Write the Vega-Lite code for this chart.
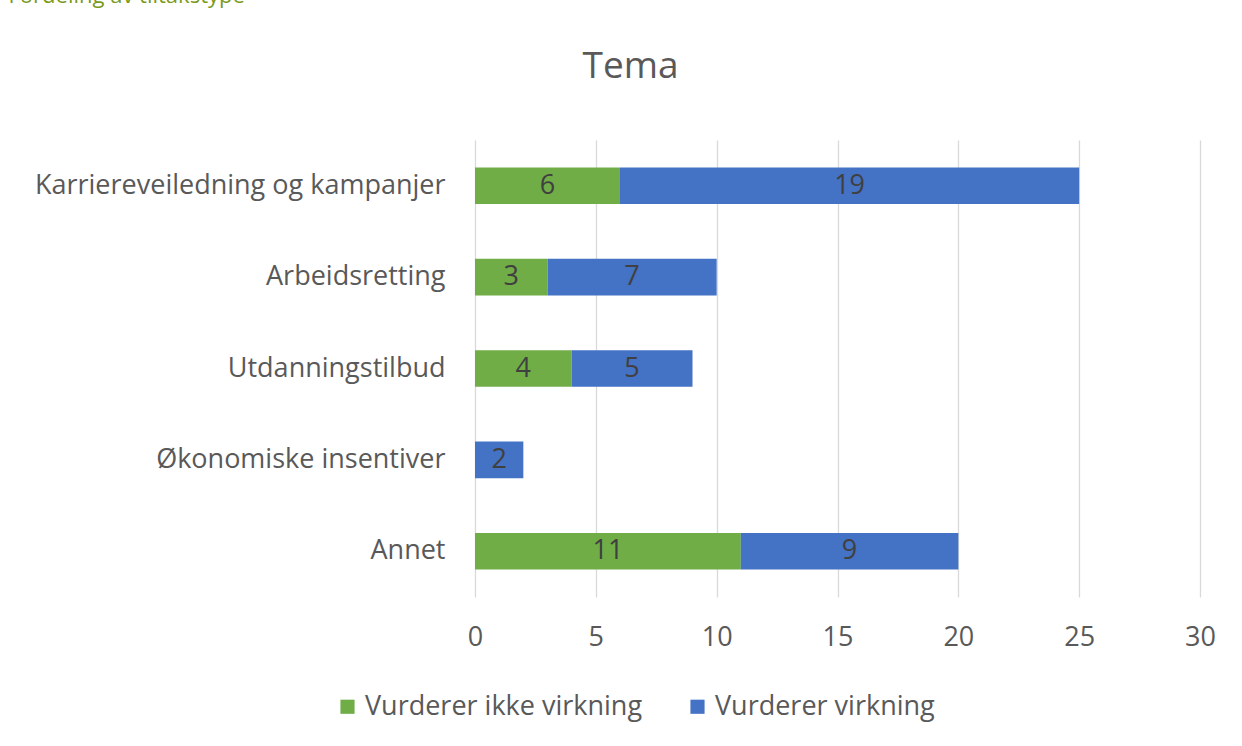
{
  "$schema": "https://vega.github.io/schema/vega-lite/v6.json",
  "width": 725,
  "height": 457,
  "autosize": {"type": "none"},
  "padding": {"left": 475, "top": 140, "right": 42, "bottom": 149},
  "background": "white",
  "data": {"values": [
    {"tema": "Karriereveiledning og kampanjer", "serie": "Vurderer ikke virkning", "ord": 1, "antall": 6},
    {"tema": "Karriereveiledning og kampanjer", "serie": "Vurderer virkning", "ord": 2, "antall": 19},
    {"tema": "Arbeidsretting", "serie": "Vurderer ikke virkning", "ord": 1, "antall": 3},
    {"tema": "Arbeidsretting", "serie": "Vurderer virkning", "ord": 2, "antall": 7},
    {"tema": "Utdanningstilbud", "serie": "Vurderer ikke virkning", "ord": 1, "antall": 4},
    {"tema": "Utdanningstilbud", "serie": "Vurderer virkning", "ord": 2, "antall": 5},
    {"tema": "Økonomiske insentiver", "serie": "Vurderer virkning", "ord": 2, "antall": 2},
    {"tema": "Annet", "serie": "Vurderer ikke virkning", "ord": 1, "antall": 11},
    {"tema": "Annet", "serie": "Vurderer virkning", "ord": 2, "antall": 9}
  ]},
  "transform": [
    {"stack": "antall", "groupby": ["tema"], "sort": [{"field": "ord", "order": "ascending"}], "as": ["v0", "v1"]},
    {"calculate": "(datum.v0 + datum.v1) / 2", "as": "midt"}
  ],
  "encoding": {
    "y": {
      "field": "tema", "type": "nominal",
      "sort": ["Karriereveiledning og kampanjer", "Arbeidsretting", "Utdanningstilbud", "Økonomiske insentiver", "Annet"],
      "scale": {"paddingInner": 0.6, "paddingOuter": 0.3},
      "axis": {"title": "Tema", "titleFont": "Open Sans", "titleFontSize": 37, "titleFontWeight": "normal", "titleColor": "#595959", "titleAngle": 0, "titleAlign": "center", "titleBaseline": "alphabetic", "titleX": 155, "titleY": -63,
        "domain": false, "ticks": false, "labelFont": "Open Sans", "labelFontSize": 27, "labelColor": "#595959", "labelPadding": 30, "labelLimit": 0, "grid": false}
    }
  },
  "layer": [
    {
      "mark": {"type": "bar"},
      "encoding": {
        "x": {"field": "v0", "type": "quantitative", "scale": {"domain": [0, 30]},
          "axis": {"title": "Fordeling av tiltakstype", "titleFont": "Open Sans", "titleFontSize": 22, "titleFontWeight": "normal", "titleColor": "#7A9A1A", "titleAngle": 0, "titleAlign": "left", "titleBaseline": "alphabetic", "titleX": -467, "titleY": -595,
            "values": [0, 5, 10, 15, 20, 25, 30], "domain": false, "ticks": false, "grid": true, "gridColor": "#d9d9d9", "gridWidth": 1.3, "labelFont": "Open Sans", "labelFontSize": 27, "labelColor": "#595959", "labelPadding": 27, "labelFlush": false}},
        "x2": {"field": "v1"},
        "color": {"field": "serie", "type": "nominal",
          "scale": {"domain": ["Vurderer ikke virkning", "Vurderer virkning"], "range": ["#70AD47", "#4472C4"]},
          "legend": {"title": null, "orient": "none", "legendX": -141, "legendY": 553, "direction": "horizontal", "symbolType": "square", "symbolSize": 200, "symbolStrokeWidth": 0, "symbolOpacity": 1, "labelFont": "Open Sans", "labelFontSize": 27, "labelColor": "#595959", "labelLimit": 0, "columnPadding": 41, "labelOffset": 4}
        }
      }
    },
    {
      "mark": {"type": "text", "font": "Open Sans", "fontSize": 27, "color": "#404040", "align": "center", "baseline": "middle"},
      "encoding": {
        "x": {"field": "midt", "type": "quantitative"},
        "text": {"field": "antall", "type": "quantitative"}
      }
    }
  ],
  "config": {"view": {"stroke": null}}
}
